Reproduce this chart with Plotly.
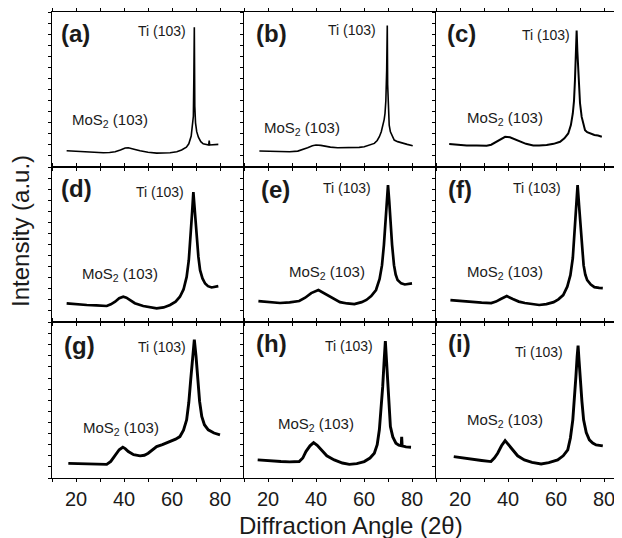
import plotly.graph_objects as go
from plotly.subplots import make_subplots

# ---------------- data ----------------
tt_a = [16.1, 20.0, 24.4, 28.0, 31.4, 34.0, 36.3, 38.5, 40.5, 41.8, 43.5, 45.0, 46.7, 50.0, 53.6, 56.0, 59.2, 62.0, 64.0,
        66.0, 67.0, 68.0, 68.5, 68.9, 69.1, 69.3, 69.5, 69.8, 70.3, 71.0, 72.0, 73.0, 75.3, 75.5, 75.7, 79.3]
int_a = [1.47, 1.42, 1.36, 1.32, 1.29, 1.32, 1.38, 1.55, 1.72, 1.75, 1.68, 1.57, 1.47, 1.33, 1.26, 1.26, 1.29, 1.38, 1.54,
         1.80, 2.10, 2.80, 3.60, 4.60, 8.00, 12.67, 5.50, 4.00, 3.20, 2.70, 2.30, 2.10, 2.00, 2.40, 2.00, 2.05]

tt_b = [16.4, 20.0, 25.4, 29.0, 32.4, 35.0, 36.5, 38.5, 40.0, 42.0, 43.5, 46.0, 49.0, 54.6, 58.0, 60.1, 62.5, 64.3, 65.5,
        66.4, 67.2, 67.8, 68.4, 68.75, 69.1, 69.45, 69.6, 69.7, 69.85, 70.1, 70.5, 71.0, 71.8, 72.6, 74.0, 75.4, 78.0, 80.3]
int_b = [1.45, 1.42, 1.38, 1.38, 1.44, 1.60, 1.75, 1.92, 1.99, 1.96, 1.90, 1.80, 1.75, 1.75, 1.78, 1.84, 1.98, 2.14, 2.40,
         2.74, 3.20, 3.64, 4.30, 4.85, 6.00, 8.76, 10.5, 12.83, 7.50, 4.90, 3.80, 3.19, 2.75, 2.44, 2.30, 2.20, 2.05, 1.93]

tt_c = [15.5, 19.0, 22.8, 27.0, 31.1, 33.0, 34.6, 36.5, 38.8, 40.8, 43.0, 45.0, 47.5, 50.5, 53.0, 56.1, 59.0, 61.7, 63.5,
        65.1, 66.2, 67.0, 67.5, 67.9, 68.3, 68.6, 68.9, 69.4, 70.0, 70.7, 71.4, 72.1, 73.0, 74.2, 76.0, 77.5, 79.1]
int_c = [2.08, 2.00, 1.96, 1.94, 1.93, 2.02, 2.20, 2.45, 2.74, 2.70, 2.50, 2.29, 2.10, 1.96, 1.94, 1.99, 2.10, 2.29, 2.60,
         3.04, 3.80, 4.85, 6.00, 7.86, 10.3, 12.38, 10.5, 7.56, 5.80, 4.54, 3.80, 3.34, 3.15, 3.04, 2.90, 2.85, 2.74]

tt_d = [16.1, 20.0, 24.5, 28.5, 32.8, 34.5, 36.3, 38.0, 39.7, 41.0, 42.5, 44.5, 48.0, 51.0, 53.6, 56.5, 59.2, 61.5, 63.3,
        64.8, 66.1, 67.0, 67.8, 68.4, 68.9, 69.5, 70.3, 71.0, 71.7, 72.7, 73.8, 75.0, 76.5, 78.0, 79.3]
int_d = [1.69, 1.60, 1.54, 1.50, 1.45, 1.60, 1.84, 2.15, 2.29, 2.20, 1.99, 1.70, 1.45, 1.30, 1.23, 1.32, 1.54, 1.85, 2.29,
         2.95, 4.09, 5.60, 7.70, 10.0, 11.77, 10.0, 7.70, 5.90, 4.70, 3.95, 3.49, 3.25, 3.13, 3.20, 3.25]

tt_e = [16.0, 20.0, 25.0, 29.0, 33.0, 35.5, 38.0, 41.0, 44.0, 47.0, 50.0, 53.0, 56.0, 59.0, 61.0, 63.0, 65.0, 66.5, 67.5,
        68.3, 69.0, 69.5, 70.0, 70.5, 71.0, 71.7, 72.5, 73.2, 74.0, 75.5, 77.0, 80.0]
int_e = [1.90, 1.80, 1.72, 1.78, 1.90, 2.20, 2.62, 2.90, 2.53, 2.10, 1.80, 1.68, 1.63, 1.80, 2.00, 2.35, 2.90, 3.90, 5.15,
         7.00, 9.20, 11.2, 12.40, 11.0, 9.20, 7.00, 5.15, 4.30, 3.80, 3.50, 3.40, 3.50]

tt_f = [16.0, 20.0, 25.0, 29.0, 33.0, 35.0, 37.0, 39.5, 42.0, 44.5, 47.0, 50.0, 53.0, 56.0, 59.0, 61.0, 63.0, 64.7, 66.0,
        67.0, 67.7, 68.4, 69.0, 69.6, 70.3, 70.9, 71.5, 72.2, 73.0, 74.5, 76.0, 78.0, 79.5]
int_f = [1.99, 1.90, 1.80, 1.75, 1.72, 1.85, 2.08, 2.35, 2.08, 1.85, 1.72, 1.62, 1.54, 1.62, 1.80, 2.05, 2.44, 3.20, 4.25,
         5.80, 7.86, 10.5, 12.40, 10.6, 8.30, 6.50, 5.15, 4.30, 3.80, 3.40, 3.16, 3.10, 3.07]

tt_g = [16.8, 20.0, 24.5, 28.5, 32.8, 34.5, 36.3, 38.0, 39.5, 40.5, 41.8, 44.0, 46.7, 48.5, 50.1, 52.0, 53.6, 56.0, 59.2,
        61.5, 63.3, 64.8, 66.1, 67.0, 67.8, 68.6, 69.3, 70.0, 70.7, 71.5, 72.4, 73.5, 75.1, 77.5, 80.0]
int_g = [1.32, 1.30, 1.26, 1.25, 1.23, 1.50, 2.08, 2.55, 2.77, 2.65, 2.38, 2.10, 1.99, 2.05, 2.23, 2.55, 2.83, 3.00, 3.28,
         3.50, 3.73, 4.30, 5.24, 6.80, 8.85, 11.0, 12.47, 11.0, 8.85, 6.90, 5.54, 4.80, 4.34, 4.05, 3.88]

tt_h = [15.7, 20.0, 25.4, 29.0, 33.0, 34.5, 35.8, 37.5, 39.0, 40.5, 42.1, 44.5, 47.6, 51.0, 53.9, 57.0, 60.1, 62.5, 64.3,
        65.5, 66.4, 67.2, 67.8, 68.4, 68.9, 69.4, 69.9, 70.4, 71.0, 72.0, 73.3, 74.5, 75.5, 75.7, 75.9, 77.5, 79.6]
int_h = [1.63, 1.55, 1.48, 1.45, 1.48, 1.80, 2.38, 2.90, 3.19, 2.95, 2.53, 2.00, 1.63, 1.35, 1.23, 1.30, 1.48, 1.80, 2.23,
         3.00, 4.34, 6.30, 8.25, 10.6, 12.32, 10.5, 8.25, 6.20, 4.64, 3.70, 3.13, 2.95, 2.90, 3.70, 2.89, 2.80, 2.77]

tt_i = [17.4, 21.0, 24.6, 29.0, 32.9, 34.3, 35.7, 37.3, 38.8, 40.2, 41.9, 44.0, 46.8, 50.0, 53.8, 57.0, 60.7, 63.0, 64.9,
        66.0, 67.0, 67.7, 68.3, 68.8, 69.2, 69.6, 70.1, 70.8, 71.5, 72.6, 73.9, 75.3, 76.7, 79.5]
int_i = [1.93, 1.80, 1.69, 1.58, 1.48, 1.80, 2.23, 2.90, 3.37, 3.00, 2.53, 2.00, 1.63, 1.40, 1.26, 1.38, 1.63, 2.00, 2.53,
         3.60, 5.24, 7.10, 9.15, 10.9, 11.92, 10.6, 8.85, 6.90, 5.24, 4.10, 3.43, 3.15, 2.98, 2.89]

panel_letters = ["(a)", "(b)", "(c)", "(d)", "(e)", "(f)", "(g)", "(h)", "(i)"]
x_tick_vals = [20, 40, 60, 80]
x_tick_text = ["20", "40", "60", "80"]

series = [(tt_a, int_a), (tt_b, int_b), (tt_c, int_c),
          (tt_d, int_d), (tt_e, int_e), (tt_f, int_f),
          (tt_g, int_g), (tt_h, int_h), (tt_i, int_i)]
line_widths = [1.6, 1.6, 2.0, 2.7, 2.7, 2.7, 2.9, 2.9, 2.9]

# ---------------- layout geometry ----------------
# page body has an 8px margin, so the figure is 8px smaller and all screen
# positions below are given in screen pixels of the final picture
W, H = 614, 530
ML, MR, MT, MB = 44, 0, 4, 60
PW, PH = W - ML - MR, H - MT - MB
col_px = [(52, 244), (244, 436), (436, 622)]
row_px = [(12, 167), (167, 322), (322, 478)]

def px_x(p):
    return (p - 8 - ML) / PW

def px_y(p):
    return (H - MB - (p - 8)) / PH

fig = make_subplots(rows=3, cols=3)
FONT = "Liberation Sans, Arial, sans-serif"
TXT = "#1a1a1a"

for k, (xs, ys) in enumerate(series):
    r, c = divmod(k, 3)
    fig.add_trace(go.Scatter(x=xs, y=ys, mode="lines",
                             line=dict(color="black", width=line_widths[k]),
                             showlegend=False), row=r + 1, col=c + 1)
    axn = "" if k == 0 else str(k + 1)
    x0, x1 = col_px[c]
    y0, y1 = row_px[r]
    xr_hi = 10 + (x1 - x0) / 2.4
    fig.layout["xaxis" + axn].update(
        domain=[px_x(x0), px_x(x1)], range=[10, xr_hi],
        tickmode="array", tickvals=x_tick_vals, ticktext=x_tick_text,
        showticklabels=(r == 2),
        ticks="outside", ticklen=3, tickwidth=1, tickcolor="black",
        minor=dict(tickmode="array", tickvals=[10, 30, 50, 70, 90], ticks="outside",
                   ticklen=3, tickwidth=1, tickcolor="black", showgrid=False),
        showline=True, linecolor="black", linewidth=1, mirror="ticks",
        showgrid=False, zeroline=False,
        tickfont=dict(family=FONT, size=20, color=TXT))
    fig.layout["yaxis" + axn].update(
        domain=[px_y(y1), px_y(y0)], range=[0, 14.05],
        tick0=0, dtick=1, ticks="outside", ticklen=3, tickwidth=1, tickcolor="black",
        showticklabels=False, showline=True, linecolor="black", linewidth=1,
        mirror=False, showgrid=False, zeroline=False)

# ---------------- annotations ----------------
letter_pos = [(59, 33), (254, 33), (445, 34), (59, 188), (259, 190), (446, 190),
              (62, 345), (254, 343), (446, 343)]
ti_pos = [(188, 31), (378, 30), (572, 35), (186, 192), (373, 188), (563, 188),
          (188, 347), (375, 346), (565, 352)]
mos_pos = [(110, 121), (302, 129), (505, 119), (120, 274), (327, 272), (505, 272),
           (121, 428), (316, 424), (505, 420)]

ann = []
for k in range(9):
    lx, ly = letter_pos[k]
    ann.append(dict(x=px_x(lx), y=px_y(ly), xref="paper", yref="paper",
                    text="<b>%s</b>" % panel_letters[k], showarrow=False,
                    xanchor="left", yanchor="middle",
                    font=dict(family=FONT, size=24, color=TXT)))
    tx, ty = ti_pos[k]
    ann.append(dict(x=px_x(tx), y=px_y(ty), xref="paper", yref="paper",
                    text="Ti (103)", showarrow=False, xanchor="right", yanchor="middle",
                    font=dict(family=FONT, size=14, color=TXT)))
    mx, my = mos_pos[k]
    ann.append(dict(x=px_x(mx), y=px_y(my), xref="paper", yref="paper",
                    text="MoS<sub>2</sub> (103)", showarrow=False,
                    xanchor="center", yanchor="middle",
                    font=dict(family=FONT, size=15, color=TXT)))

ann.append(dict(x=px_x(351), y=px_y(525), xref="paper", yref="paper",
                text="Diffraction Angle (2θ)", showarrow=False,
                xanchor="center", yanchor="middle",
                font=dict(family=FONT, size=24, color=TXT)))
ann.append(dict(x=px_x(21), y=px_y(231), xref="paper", yref="paper",
                text="Intensity (a.u.)", showarrow=False, textangle=-90,
                xanchor="center", yanchor="middle",
                font=dict(family=FONT, size=24, color=TXT)))

fig.update_layout(width=W, height=H, autosize=False,
                  margin=dict(l=ML, r=MR, t=MT, b=MB),
                  paper_bgcolor="white", plot_bgcolor="white",
                  annotations=ann, showlegend=False)

fig.write_html("out.html")
